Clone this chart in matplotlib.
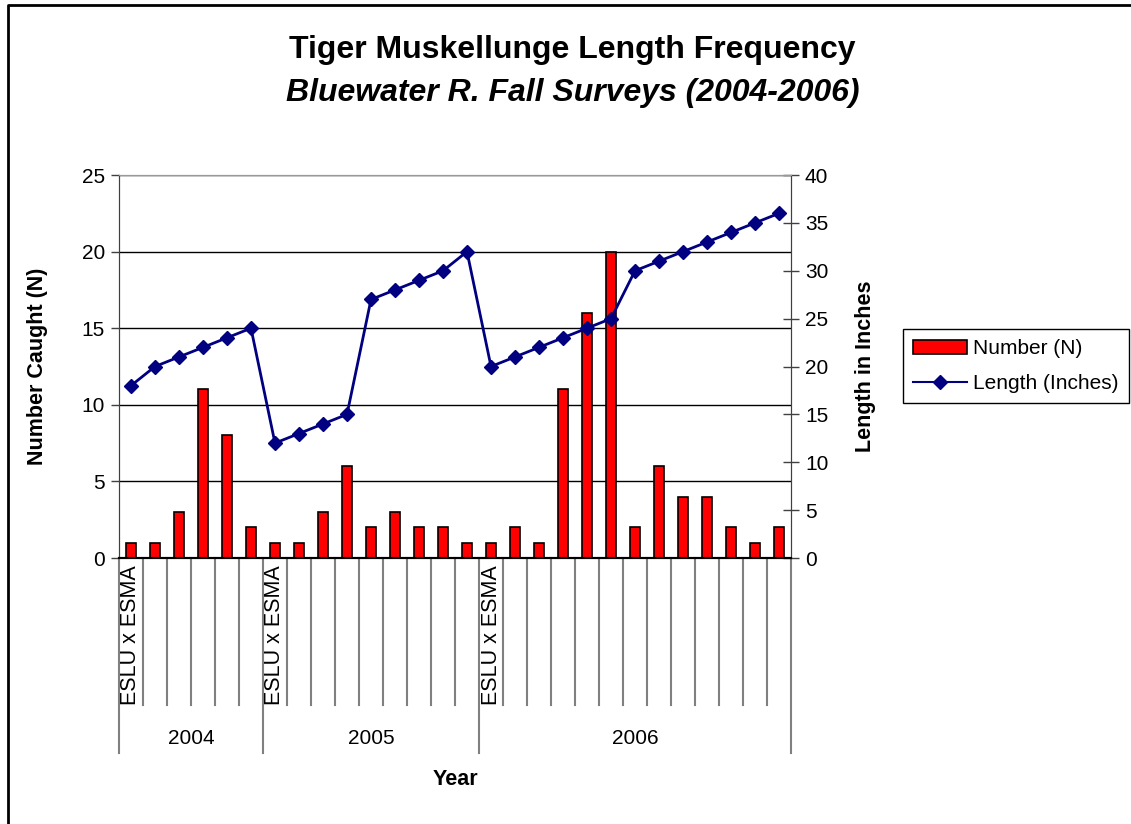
import matplotlib.pyplot as plt
import matplotlib.transforms as mtransforms
from matplotlib.patches import Patch
from matplotlib.lines import Line2D

plt.rcParams['font.family'] = ['Liberation Sans', 'DejaVu Sans']

# Data
years = ['2004', '2005', '2006']
group_sizes = [6, 9, 13]
first_label = 'ESLU x ESMA'
numbers = [1, 1, 3, 11, 8, 2,
           1, 1, 3, 6, 2, 3, 2, 2, 1,
           1, 2, 1, 11, 16, 20, 2, 6, 4, 4, 2, 1, 2]
lengths = [18, 20, 21, 22, 23, 24,
           12, 13, 14, 15, 27, 28, 29, 30, 32,
           20, 21, 22, 23, 24, 25, 30, 31, 32, 33, 34, 35, 36]

x = list(range(len(numbers)))

fig = plt.figure(figsize=(11.31, 8.24), dpi=100)
ax = fig.add_axes([0.1052, 0.3228, 0.5942, 0.4648])
ax2 = ax.twinx()

# bars (left axis)
ax.bar(x, numbers, width=0.45, color='#FF0000', edgecolor='black', linewidth=1.2, zorder=2)
ax.set_xlim(-0.5, len(numbers) - 0.5)
ax.set_ylim(0, 25)
ax.set_yticks(range(0, 26, 5))
ax.set_axisbelow(True)
ax.yaxis.grid(True, color='black', linewidth=1)
ax.set_xticks([])

# line (right axis)
ax2.plot(x, lengths, color='#000080', linewidth=2, marker='D', markersize=7.5,
         markerfacecolor='#000080', markeredgecolor='#000080')
ax2.set_ylim(0, 40)
ax2.set_yticks(range(0, 41, 5))

for a in (ax, ax2):
    a.spines['top'].set_color('#999999')
    a.spines['left'].set_color('#404040')
    a.spines['right'].set_color('#404040')
    a.spines['bottom'].set_color('black')
    a.spines['bottom'].set_linewidth(1.5)
    a.tick_params(axis='y', labelsize=15, width=1, color='#404040')
ax.tick_params(axis='y', direction='out', length=6, pad=4)
ax2.tick_params(axis='y', direction='inout', length=12, pad=4)

ax.set_ylabel('Number Caught (N)', fontsize=15.5, fontweight='bold')
ax.yaxis.set_label_coords(-0.106, 0.5)
ax2.set_ylabel('Length in Inches', fontsize=15.5, fontweight='bold')
ax2.yaxis.set_label_coords(1.095, 0.5)

# category axis with grouped year labels
trans = mtransforms.blended_transform_factory(ax.transData, ax.transAxes)
starts = [sum(group_sizes[:i]) for i in range(len(group_sizes))]
ends = [s + n for s, n in zip(starts, group_sizes)]
group_edges = set([s - 0.5 for s in starts] + [e - 0.5 for e in ends])
for i in range(len(numbers) + 1):
    b = i - 0.5
    bottom = -0.51 if b in group_edges else -0.383
    ax.plot([b, b], [0, bottom], transform=trans, color='#808080',
            linewidth=1.5, clip_on=False, zorder=1)
for s, e, yr in zip(starts, ends, years):
    ax.text(s, -0.018, first_label, transform=trans, rotation=90,
            ha='center', va='top', fontsize=15.5)
    ax.text((s + e - 1) / 2, -0.471, yr, transform=trans,
            ha='center', va='center', fontsize=15)
ax.text(0.5, -0.578, 'Year', transform=ax.transAxes, ha='center', va='center',
        fontsize=15.5, fontweight='bold')

# titles
fig.text(0.506, 0.939, 'Tiger Muskellunge Length Frequency', ha='center', va='center',
         fontsize=23, fontweight='bold')
fig.text(0.506, 0.887, 'Bluewater R. Fall Surveys (2004-2006)', ha='center', va='center',
         fontsize=23, fontweight='bold', fontstyle='italic')

# legend
handles = [Patch(facecolor='#FF0000', edgecolor='black', linewidth=1.2),
           Line2D([0], [0], color='#000080', linewidth=1.5, marker='D', markersize=7)]
leg = fig.legend(handles, ['Number (N)', 'Length (Inches)'], loc='upper left',
                 bbox_to_anchor=(0.798, 0.601), borderaxespad=0, fontsize=15,
                 fancybox=False, framealpha=1, edgecolor='black', handlelength=2.6,
                 labelspacing=0.75, borderpad=0.5, handletextpad=0.3)
leg.get_frame().set_linewidth(1)

# outer chart border (left and top)
fig.add_artist(Line2D([0.0075, 0.0075, 1.0], [0.0, 0.9939, 0.9939],
                      transform=fig.transFigure, color='black', linewidth=2))

fig.savefig('out.png', dpi=100)
